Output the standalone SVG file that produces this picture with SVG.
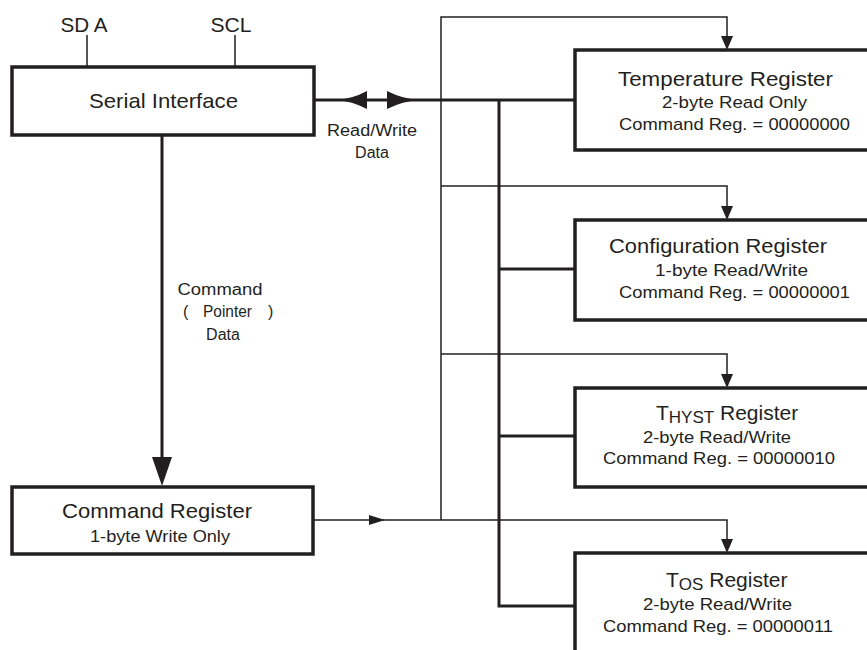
<svg xmlns="http://www.w3.org/2000/svg" width="867" height="650" viewBox="0 0 867 650">
<style>
text{font-family:"Liberation Sans",Arial,sans-serif;fill:#231f20}
.t{font-size:21px}
.s{font-size:17px}
.l{font-size:16px}
.box{fill:#fff;stroke:#231f20;stroke-width:3.5}
.thick{fill:none;stroke:#231f20;stroke-width:3}
.thin{fill:none;stroke:#231f20;stroke-width:1.5}
.head{fill:#231f20;stroke:none}
</style>
<rect width="867" height="650" fill="#fff"/>
<g id="connectors">
<path class="thin" d="M87,35V67M235,35V67"/>
<path class="thick" d="M162,135V460"/>
<polygon class="head" points="152,457 172,457 162,486"/>
<path class="thick" d="M314,100H575"/>
<path class="head" d="M336,100Q352,99 367,91L367,109Q352,101 336,100Z"/>
<path class="head" d="M419,100Q403,99 387,91L387,109Q403,101 419,100Z"/>
<path class="thick" d="M499,100V606H575M499,269H575M499,436H575"/>
<path class="thin" d="M313,520H727V540"/>
<polygon class="head" points="369,515 385,520 369,525"/>
<path class="thin" d="M441,520V17H727V38M441,186H727V208M441,354H727V376"/>
<polygon class="head" points="721,36 733,36 727,50"/>
<polygon class="head" points="721,206 733,206 727,220"/>
<polygon class="head" points="721,374 733,374 727,388"/>
<polygon class="head" points="721,539 733,539 727,553"/>
<text class="l" x="372" y="136" text-anchor="middle" textLength="90" lengthAdjust="spacingAndGlyphs">Read/Write</text>
<text class="l" x="372" y="158" text-anchor="middle">Data</text>
<text class="l" x="220" y="295" text-anchor="middle" textLength="85" lengthAdjust="spacingAndGlyphs">Command</text>
<text class="l" x="183" y="317">(</text>
<text class="l" x="203" y="317" textLength="49" lengthAdjust="spacingAndGlyphs">Pointer</text>
<text class="l" x="268" y="317">)</text>
<text class="l" x="223" y="340" text-anchor="middle">Data</text>
</g>
<g id="sda"><text class="t" x="84" y="32" text-anchor="middle" textLength="47" lengthAdjust="spacingAndGlyphs">SD A</text></g>
<g id="scl"><text class="t" x="231" y="32" text-anchor="middle" textLength="41" lengthAdjust="spacingAndGlyphs">SCL</text></g>
<g id="serial-interface">
<rect class="box" x="12" y="67" width="302" height="68"/>
<text class="t" x="163.5" y="108" text-anchor="middle" textLength="149" lengthAdjust="spacingAndGlyphs">Serial Interface</text>
</g>
<g id="command-register">
<rect class="box" x="12" y="487" width="301" height="67"/>
<text class="t" x="157" y="518" text-anchor="middle" textLength="190" lengthAdjust="spacingAndGlyphs">Command Register</text>
<text class="s" x="160" y="542" text-anchor="middle" textLength="140" lengthAdjust="spacingAndGlyphs">1-byte Write Only</text>
</g>
<g id="temperature-register">
<rect class="box" x="575" y="50" width="320" height="100"/>
<text class="t" x="725.5" y="86" text-anchor="middle" textLength="215" lengthAdjust="spacingAndGlyphs">Temperature Register</text>
<text class="s" x="734.5" y="108" text-anchor="middle" textLength="145" lengthAdjust="spacingAndGlyphs">2-byte Read Only</text>
<text class="s" x="734.5" y="130" text-anchor="middle" textLength="231" lengthAdjust="spacingAndGlyphs">Command Reg. = 00000000</text>
</g>
<g id="configuration-register">
<rect class="box" x="575" y="220" width="320" height="100"/>
<text class="t" x="718" y="253" text-anchor="middle" textLength="218" lengthAdjust="spacingAndGlyphs">Configuration Register</text>
<text class="s" x="731.5" y="276" text-anchor="middle" textLength="153" lengthAdjust="spacingAndGlyphs">1-byte Read/Write</text>
<text class="s" x="734.5" y="298" text-anchor="middle" textLength="231" lengthAdjust="spacingAndGlyphs">Command Reg. = 00000001</text>
</g>
<g id="thyst-register">
<rect class="box" x="575" y="388" width="320" height="99"/>
<text class="t" x="656" y="420">T<tspan font-size="17" dy="3">HYST</tspan><tspan dy="-3"> Register</tspan></text>
<text class="s" x="717" y="443" text-anchor="middle" textLength="148" lengthAdjust="spacingAndGlyphs">2-byte Read/Write</text>
<text class="s" x="719" y="464" text-anchor="middle" textLength="232" lengthAdjust="spacingAndGlyphs">Command Reg. = 00000010</text>
</g>
<g id="tos-register">
<rect class="box" x="575" y="553" width="320" height="200"/>
<text class="t" x="666" y="587">T<tspan font-size="17" dy="3">OS</tspan><tspan dy="-3"> Register</tspan></text>
<text class="s" x="717.5" y="610" text-anchor="middle" textLength="149" lengthAdjust="spacingAndGlyphs">2-byte Read/Write</text>
<text class="s" x="718" y="632" text-anchor="middle" textLength="230" lengthAdjust="spacingAndGlyphs">Command Reg. = 00000011</text>
</g>
</svg>
